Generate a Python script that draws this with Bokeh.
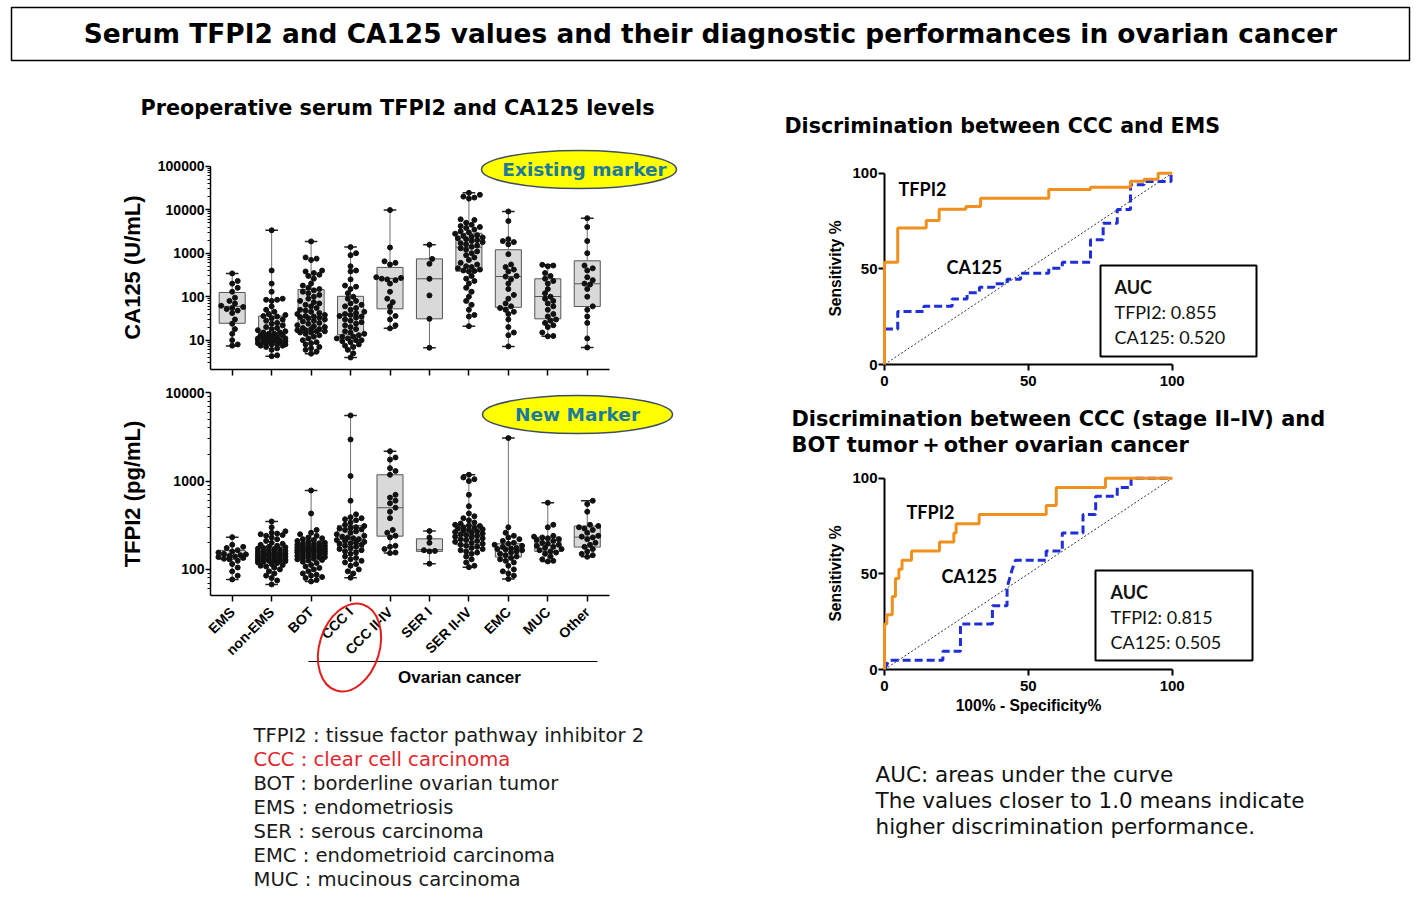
import math
from bokeh.plotting import figure
from bokeh.models import Range1d, FixedTicker, NumeralTickFormatter
from bokeh.layouts import column, row
from bokeh.core.properties import value
from bokeh.embed import file_html
from bokeh.resources import INLINE

# ------------------------------------------------------------------ data
CATEGORIES = ["EMS", "non-EMS", "BOT", "CCC I", "CCC II-IV", "SER I",
              "SER II-IV", "EMC", "MUC", "Other"]

# CA125 (U/mL) box statistics (min / q1 / median / q3 / max)
CA125_MIN = [7.4, 4.3, 4.9, 4.0, 18.7, 6.7, 21, 7.2, 12.3, 6.8]
CA125_Q1 = [24.5, 8.7, 16, 13.3, 52.6, 31, 385, 57, 31, 59.6]
CA125_MED = [60, 14.5, 34, 37, 263, 258, 1374, 291, 101, 198]
CA125_Q3 = [125, 36, 146, 102, 472, 740, 2880, 1200, 258, 668]
CA125_MAX = [343, 3365, 1866, 1380, 9800, 1560, 24400, 9100, 541, 6380]

CA125_EMS = [343, 230, 200, 160, 130, 95, 80, 70, 62, 58, 55, 52, 48, 42, 30, 24, 18, 14, 10, 8, 7.5]
CA125_NONEMS = [3365, 400, 200, 130, 90, 85, 85, 80, 60, 50, 45, 40, 38, 36, 35, 32, 30, 28, 25, 24, 22,
                20, 19, 18, 17, 16, 15, 15, 14, 14, 13, 13, 12, 12, 12, 11, 11, 11, 10, 10, 10, 10, 9.5,
                9, 9, 9, 8.5, 8.5, 8, 8, 8, 7.5, 7.5, 7, 6.5, 6, 4.5, 4.3]
CA125_BOT = [1866, 800, 750, 700, 400, 380, 350, 320, 300, 260, 200, 180, 160, 150, 140, 130, 120, 110,
             100, 90, 80, 75, 70, 65, 60, 55, 50, 48, 45, 42, 40, 38, 36, 35, 34, 33, 32, 30, 28, 27, 25,
             24, 22, 21, 20, 19, 18, 18, 17, 17, 16, 16, 15, 15, 14, 13, 12, 11, 10, 9, 8.5, 8, 7, 6.5,
             6, 5.5, 4.9]
CA125_CCC1 = [1380, 1000, 900, 500, 400, 380, 250, 180, 170, 150, 120, 100, 90, 80, 70, 65, 60, 55, 50,
              45, 42, 40, 38, 36, 35, 33, 30, 28, 26, 24, 22, 20, 18, 16, 15, 14, 13, 12, 12, 11, 11, 10,
              10, 9.5, 9, 8, 7.5, 7, 6, 5, 4.0]
CA125_CCC24 = [9800, 1350, 650, 600, 550, 280, 270, 260, 250, 240, 200, 130, 90, 75, 60, 45, 36, 30, 22, 18.7]
CA125_SER1 = [1560, 740, 570, 258, 107, 31, 6.7]
CA125_SER24 = [24400, 22000, 20000, 19000, 18000, 6000, 5800, 5000, 4500, 4200, 4000, 3800, 3500, 3200,
               3000, 2800, 2600, 2500, 2400, 2300, 2200, 2100, 2000, 1900, 1800, 1700, 1600, 1500, 1400,
               1300, 1200, 1100, 1000, 900, 800, 700, 600, 550, 500, 480, 450, 420, 400, 390, 380, 300,
               260, 230, 200, 160, 130, 100, 80, 65, 50, 38, 35, 21]
CA125_EMC = [9100, 5500, 2100, 1900, 1800, 1600, 950, 550, 480, 420, 380, 300, 290, 250, 200, 150, 110,
             90, 70, 60, 55, 50, 45, 40, 30, 20, 15, 13, 7.2]
CA125_MUC = [541, 520, 500, 350, 300, 260, 230, 200, 150, 120, 100, 90, 80, 70, 60, 50, 40, 35, 30, 28,
             25, 22, 20, 15, 12.5, 12.3]
CA125_OTHER = [6380, 4000, 1900, 1000, 520, 450, 400, 280, 240, 200, 190, 150, 100, 60, 50, 35, 25, 11, 6.8]

# TFPI2 (pg/mL) box statistics
TFPI2_MIN = [77, 67.6, 73, 80.5, 153, 116, 106, 78, 123, 139]
TFPI2_Q1 = [130, 126, 138, 164, 238, 160, 190, 138, 160, 179]
TFPI2_MED = [144, 150, 171, 219, 499, 167, 243, 171, 187, 232]
TFPI2_Q3 = [164, 179, 204, 315, 1180, 222, 315, 195, 232, 310]
TFPI2_MAX = [232, 349, 784, 5540, 2180, 272, 1180, 3070, 569, 599]

TFPI2_EMS = [232, 190, 180, 175, 165, 160, 155, 150, 148, 145, 142, 140, 138, 135, 132, 130, 125, 115,
             105, 95, 85, 77]
TFPI2_NONEMS = [349, 300, 270, 260, 255, 250, 245, 240, 230, 220, 210, 200, 195, 190, 185, 180, 178, 175,
                172, 170, 168, 165, 162, 160, 158, 156, 154, 152, 150, 148, 146, 145, 144, 142, 140, 138,
                136, 135, 134, 132, 130, 129, 128, 127, 126, 125, 124, 122, 120, 118, 115, 112, 110, 108,
                105, 100, 95, 90, 85, 80, 75, 67.6]
TFPI2_BOT = [784, 430, 280, 260, 250, 240, 230, 225, 220, 215, 210, 205, 200, 198, 195, 192, 190, 188,
             185, 182, 180, 178, 176, 174, 172, 170, 168, 166, 165, 163, 161, 160, 158, 156, 155, 153,
             150, 148, 146, 144, 142, 140, 138, 136, 134, 132, 130, 128, 126, 122, 118, 112, 108, 104,
             100, 95, 90, 87, 85, 82, 80, 76, 73]
TFPI2_CCC1 = [5540, 2960, 1140, 600, 420, 390, 380, 370, 360, 340, 320, 310, 300, 295, 290, 285, 280,
              270, 260, 250, 240, 235, 230, 225, 220, 215, 210, 205, 200, 198, 195, 190, 185, 180, 175,
              170, 165, 160, 155, 150, 140, 135, 130, 125, 120, 115, 110, 100, 95, 90, 80.5]
TFPI2_CCC24 = [2180, 1850, 1750, 1400, 1300, 1180, 700, 650, 600, 560, 500, 450, 380, 280, 260, 240,
               230, 185, 180, 170, 155, 153]
TFPI2_SER1 = [272, 230, 200, 165, 162, 160, 116]
TFPI2_SER24 = [1180, 1100, 1050, 1000, 700, 520, 430, 400, 380, 360, 340, 330, 320, 315, 310, 300, 295,
               290, 285, 280, 275, 270, 265, 260, 255, 250, 245, 240, 235, 230, 225, 220, 215, 210, 205,
               200, 195, 190, 185, 180, 175, 170, 165, 160, 155, 150, 140, 130, 120, 110, 106]
TFPI2_EMC = [3070, 300, 260, 240, 230, 220, 210, 200, 195, 190, 185, 180, 175, 172, 170, 168, 165, 160,
             155, 150, 145, 140, 135, 130, 125, 120, 110, 100, 95, 90, 85, 78]
TFPI2_MUC = [569, 320, 300, 240, 235, 230, 225, 220, 215, 210, 200, 195, 190, 185, 180, 175, 170, 165,
             160, 155, 150, 140, 130, 125, 123]
TFPI2_OTHER = [599, 550, 450, 320, 310, 300, 290, 280, 260, 240, 235, 230, 220, 200, 190, 180, 170, 160,
               150, 145, 139]

CA125_TICKS = [10, 100, 1000, 10000, 100000]
TFPI2_TICKS = [100, 1000, 10000]

# ROC curves (100% - specificity %, sensitivity %)
ROC1_TFPI2_X = [0, 0, 4.6, 4.6, 14.5, 14.5, 19.0, 19.0, 28.3, 28.3, 33.4, 33.4, 57.1, 57.1, 71.6, 71.6,
                85.5, 85.5, 90.2, 90.2, 95.1, 95.1, 100]
ROC1_TFPI2_Y = [0, 53.5, 53.5, 71.3, 71.3, 75.3, 75.3, 81.2, 81.2, 82.6, 82.6, 86.9, 86.9, 91.5, 91.5,
                92.7, 92.7, 95.8, 95.8, 96.9, 96.9, 100, 100]
ROC1_CA125_X = [0, 0, 4.6, 4.6, 13.7, 13.7, 23.5, 23.5, 28.7, 28.7, 33.0, 33.0, 38.0, 38.0, 42.6, 42.6,
                47.3, 47.3, 57.1, 57.1, 61.8, 61.8, 71.6, 71.6, 76.0, 76.0, 80.9, 80.9, 85.5, 85.5, 90.2,
                90.2, 99.6, 99.6, 100]
ROC1_CA125_Y = [0, 18.6, 18.6, 27.7, 27.7, 30.5, 30.5, 34.3, 34.3, 37.5, 37.5, 40.4, 40.4, 42.2, 42.2,
                44.6, 44.6, 47.7, 47.7, 50.3, 50.3, 53.5, 53.5, 65.2, 65.2, 73.9, 73.9, 81.0, 81.0, 93.9,
                93.9, 95.6, 95.6, 100, 100]
ROC2_TFPI2_X = [0, 0, 0.8, 0.8, 2.7, 2.7, 3.8, 3.8, 5.0, 5.0, 6.1, 6.1, 9.4, 9.4, 19.1, 19.1, 24.1, 24.1,
                24.9, 24.9, 32.9, 32.9, 56.2, 56.2, 59.7, 59.7, 76.8, 76.8, 100]
ROC2_TFPI2_Y = [0, 23.8, 23.8, 28.6, 28.6, 38.1, 38.1, 47.6, 47.6, 52.4, 52.4, 57.1, 57.1, 61.9, 61.9,
                66.7, 66.7, 71.4, 71.4, 76.2, 76.2, 81.0, 81.0, 85.7, 85.7, 95.2, 95.2, 100, 100]
ROC2_CA125_X = [0, 1.5, 20.3, 20.3, 26.4, 26.4, 37.5, 37.5, 42.6, 42.6, 44.4, 45.5, 56.2, 56.2, 61.8,
                61.8, 69.0, 69.0, 73.4, 73.4, 80.9, 80.9, 85.7, 85.7, 100]
ROC2_CA125_Y = [0, 4.8, 4.8, 9.5, 9.5, 23.8, 23.8, 33.3, 33.3, 42.9, 52.4, 57.1, 57.1, 61.9, 61.9, 71.4,
                71.4, 81.0, 81.0, 90.5, 90.5, 95.2, 95.2, 100, 100]
ROC_DIAG = [0, 100]
ROC_TICKS = [0, 50, 100]
AUC1 = ["AUC", "TFPI2: 0.855", "CA125: 0.520"]
AUC2 = ["AUC", "TFPI2: 0.815", "CA125: 0.505"]

TITLE = "Serum TFPI2 and CA125 values and their diagnostic performances in ovarian cancer"
SUBTITLE = "Preoperative serum TFPI2 and CA125 levels"
ROC1_TITLE = "Discrimination between CCC and EMS"
ROC2_TITLE = ["Discrimination between CCC (stage II\u2013IV) and", "BOT tumor\u2009+\u2009other ovarian cancer"]
LEGEND_LINES = ["TFPI2 : tissue factor pathway inhibitor 2", "CCC : clear cell carcinoma",
                "BOT : borderline ovarian tumor", "EMS : endometriosis", "SER : serous carcinoma",
                "EMC : endometrioid carcinoma", "MUC : mucinous carcinoma"]
LEGEND_COLORS = ["#1a1a1a", "#e3262b", "#1a1a1a", "#1a1a1a", "#1a1a1a", "#1a1a1a", "#1a1a1a"]
NOTE_LINES = ["AUC: areas under the curve", "The values closer to 1.0 means indicate",
              "higher discrimination performance."]

# ------------------------------------------------------------------ geometry (page pixels)
CAT0_X, CAT_DX = 231.7, 39.45
CA_TOP_Y, CA_DEC = 165.7, 43.5     # 100000 position, px per decade
TF_TOP_Y, TF_DEC = 392.3, 88.3     # 10000 position, px per decade
ROC_X0, ROC_PX = 884.0, 2.877
ROC1_Y0, ROC2_Y0, ROC_PY = 364.0, 669.0, 1.913
LEFT_W, RIGHT_W = 708, 712
BOX_L, BOX_R = 210, 609            # frame edges of the box plots
ROC_L, ROC_R = 884, 1172           # frame edges of the ROC plots
BOX_LB, BOX_RB = BOX_L, LEFT_W - BOX_R
ROC_LB, ROC_RB = ROC_L - LEFT_W, LEFT_W + RIGHT_W - ROC_R

ARIAL = "Liberation Sans"
HEAD = "DejaVu Sans"
BODY = "DejaVu Sans"
CAL = "Lato"


def ca_x(rx):
    return (rx - CAT0_X) / CAT_DX


def ca_y(ry):
    return 10 ** (5 - (ry - CA_TOP_Y) / CA_DEC)


def tf_y(ry):
    return 10 ** (4 - (ry - TF_TOP_Y) / TF_DEC)


def roc_x(rx):
    return (rx - ROC_X0) / ROC_PX


def roc_y(ry, y0):
    return (y0 - ry) / ROC_PY


def canvas(x0, w, top, h, lb, rb):
    # data coordinates equal page pixels; frame borders match the column's plots
    p = figure(width=w, height=h, x_range=Range1d(x0 + lb, x0 + w - rb), y_range=Range1d(top + h, top),
               x_axis_location=None, y_axis_location=None, toolbar_location=None,
               output_backend="svg", min_border_left=lb, min_border_right=rb,
               min_border_top=0, min_border_bottom=0)
    p.outline_line_color = None
    p.grid.visible = False
    p.title.visible = False
    return p


def swarm(vals, ppd, d=5.0, maxoff=16.0):
    ys = [math.log10(v) * ppd for v in vals]
    order = sorted(range(len(vals)), key=lambda i: ys[i])
    step = d * 0.55
    cands = [0.0]
    k = 1
    while k * step <= maxoff:
        cands += [k * step, -k * step]
        k += 1
    placed = []
    offs = [0.0] * len(vals)
    for i in order:
        y = ys[i]
        best, bestov = 0.0, 1e9
        for c in cands:
            ov = 0.0
            for (px, py) in placed:
                if abs(py - y) < d:
                    dist = math.hypot(px - c, py - y)
                    if dist < d:
                        ov += d - dist
            if ov == 0:
                best = c
                break
            if ov < bestov:
                bestov, best = ov, c
        offs[i] = best
        placed.append((best, y))
    return [o / CAT_DX for o in offs]


def style_axis(ax, size="14px"):
    ax.axis_line_color = "black"
    ax.axis_line_width = 1.5
    ax.major_tick_line_color = "black"
    ax.major_tick_line_width = 1.5
    ax.minor_tick_line_color = "black"
    ax.major_tick_in = 0
    ax.minor_tick_in = 0
    ax.major_label_text_font = ARIAL
    ax.major_label_text_font_style = "bold"
    ax.major_label_text_font_size = size
    ax.major_label_text_color = "black"
    ax.axis_label_text_font = ARIAL
    ax.axis_label_text_font_style = "bold"
    ax.axis_label_text_color = "black"


def draw_boxes(p, mins, q1, med, q3, mx, groups, ppd):
    xs = list(range(len(CATEGORIES)))
    hw, cw = 0.33, 0.16
    p.segment(x0=xs, y0=mins, x1=xs, y1=mx, line_color="#707070", line_width=1)
    p.quad(left=[x - hw for x in xs], right=[x + hw for x in xs], bottom=q1, top=q3,
           fill_color="#d9d9d9", line_color="#555555", line_width=1)
    p.segment(x0=[x - hw for x in xs], y0=med, x1=[x + hw for x in xs], y1=med,
              line_color="#555555", line_width=1)
    p.segment(x0=[x - cw for x in xs], y0=mins, x1=[x + cw for x in xs], y1=mins,
              line_color="#222222", line_width=1.5)
    p.segment(x0=[x - cw for x in xs], y0=mx, x1=[x + cw for x in xs], y1=mx,
              line_color="#222222", line_width=1.5)
    dx, dy = [], []
    for i, g in enumerate(groups):
        offs = swarm(g, ppd)
        dx += [i + o for o in offs]
        dy += list(g)
    p.scatter(dx, dy, size=5, color="#111111", level="overlay")


def log_minor(lo, hi):
    out = []
    for e in range(-1, 7):
        for m in range(2, 10):
            v = m * 10 ** e
            if lo <= v <= hi:
                out.append(v)
    return out


def ctext(p, x, y, t, font, size, style="normal", color="black", align="left"):
    p.text(x=x, y=y, text=t, text_font=value(font), text_font_style=style, text_font_size=size,
           text_color=color, text_align=align, text_baseline="middle", level="overlay")


# ------------------------------------------------------------------ title
F0 = canvas(0, LEFT_W + RIGHT_W, 0, 70, 0, 0)
F0.quad(left=[11], right=[1409], top=[7], bottom=[60], fill_color=None, line_color="black",
        line_width=1.5)
ctext(F0, [710], [33], [TITLE], HEAD, "26.4px", "bold", align="center")

# ------------------------------------------------------------------ left column
L0 = canvas(0, LEFT_W, 70, 75, BOX_LB, BOX_RB)
ctext(L0, [397], [107], [SUBTITLE], HEAD, "20.8px", "bold", align="center")


def box_figure(height, top, frame_top, frame_bottom, ymap):
    p = figure(width=LEFT_W, height=height, y_axis_type="log",
               x_range=Range1d(ca_x(BOX_L), ca_x(BOX_R)),
               y_range=Range1d(ymap(frame_bottom), ymap(frame_top)),
               min_border_left=BOX_LB, min_border_right=BOX_RB,
               min_border_top=frame_top - top, min_border_bottom=top + height - frame_bottom,
               toolbar_location=None, output_backend="svg")
    p.outline_line_color = None
    p.grid.visible = False
    p.title.visible = False
    style_axis(p.xaxis[0])
    style_axis(p.yaxis[0])
    p.xaxis.ticker = FixedTicker(ticks=list(range(len(CATEGORIES))))
    p.xaxis.major_tick_out = 6
    p.yaxis.formatter = NumeralTickFormatter(format="0")
    p.yaxis.major_tick_out = 5
    p.yaxis.minor_tick_out = 3
    p.yaxis.major_label_standoff = 1
    p.yaxis.axis_label_text_font_size = "22px"
    return p


# CA125 panel: figure y 145..385, frame x 210..609, y 165..369
L1 = box_figure(240, 145, 165, 369, ca_y)
L1.xaxis.major_label_overrides = {i: "" for i in range(len(CATEGORIES))}
L1.xaxis.major_label_text_font_size = "0px"
L1.yaxis.ticker = FixedTicker(ticks=CA125_TICKS, minor_ticks=log_minor(ca_y(369), 100000))
L1.yaxis.bounds = (ca_y(369), 100000)
L1.yaxis.axis_label = "CA125 (U/mL)"
L1.yaxis.axis_label_standoff = 10
draw_boxes(L1, CA125_MIN, CA125_Q1, CA125_MED, CA125_Q3, CA125_MAX,
           [CA125_EMS, CA125_NONEMS, CA125_BOT, CA125_CCC1, CA125_CCC24, CA125_SER1, CA125_SER24,
            CA125_EMC, CA125_MUC, CA125_OTHER], CA_DEC)
L1.ellipse(x=[ca_x(578.5)], y=[ca_y(169)], width=195, height=38, width_units="screen",
           height_units="screen", fill_color="#ffff00", line_color="#3f4f5f", line_width=1.5,
           level="overlay")
ctext(L1, [ca_x(584)], [ca_y(169)], ["Existing marker"], HEAD, "18.5px", "bold", "#1c7a9c", "center")

# TFPI2 panel: figure y 385..700, frame y 392..595
L2 = box_figure(315, 385, 392, 595, tf_y)
L2.xaxis.major_label_overrides = {i: c for i, c in enumerate(CATEGORIES)}
L2.xaxis.major_label_orientation = math.pi / 4
L2.xaxis.major_label_standoff = 8
L2.yaxis.ticker = FixedTicker(ticks=TFPI2_TICKS, minor_ticks=log_minor(tf_y(595), 10000))
L2.yaxis.bounds = (tf_y(595), 10000)
L2.yaxis.axis_label = "TFPI2 (pg/mL)"
L2.yaxis.axis_label_standoff = 18
draw_boxes(L2, TFPI2_MIN, TFPI2_Q1, TFPI2_MED, TFPI2_Q3, TFPI2_MAX,
           [TFPI2_EMS, TFPI2_NONEMS, TFPI2_BOT, TFPI2_CCC1, TFPI2_CCC24, TFPI2_SER1, TFPI2_SER24,
            TFPI2_EMC, TFPI2_MUC, TFPI2_OTHER], TF_DEC)
L2.ellipse(x=[ca_x(577)], y=[tf_y(414)], width=190, height=38, width_units="screen",
           height_units="screen", fill_color="#ffff00", line_color="#3f4f5f", line_width=1.5,
           level="overlay")
ctext(L2, [ca_x(577)], [tf_y(414)], ["New Marker"], HEAD, "18.5px", "bold", "#1c7a9c", "center")
L2.segment(x0=[ca_x(308)], y0=[tf_y(661)], x1=[ca_x(597)], y1=[tf_y(661)], line_color="black",
           line_width=1, level="overlay")
L2.ellipse(x=[ca_x(349)], y=[tf_y(647)], width=60, height=90, angle=-0.3, width_units="screen",
           height_units="screen", fill_color=None, line_color="#e02020", line_width=2, level="overlay")
ctext(L2, [ca_x(459)], [tf_y(677)], ["Ovarian cancer"], ARIAL, "17px", "bold", align="center")

L3 = canvas(0, LEFT_W, 700, 200, BOX_LB, BOX_RB)
ctext(L3, [253] * len(LEGEND_LINES), [735 + 24 * i for i in range(len(LEGEND_LINES))],
      LEGEND_LINES, BODY, "19.6px", color=LEGEND_COLORS)

# ------------------------------------------------------------------ right column
R0 = canvas(LEFT_W, RIGHT_W, 70, 75, ROC_LB, ROC_RB)
ctext(R0, [784], [125], [ROC1_TITLE], HEAD, "20.6px", "bold")


def roc_panel(height, top, frame_top, frame_bottom, y0, xlabel):
    p = figure(width=RIGHT_W, height=height,
               x_range=Range1d(roc_x(ROC_L), roc_x(ROC_R)),
               y_range=Range1d(roc_y(frame_bottom, y0), roc_y(frame_top, y0)),
               min_border_left=ROC_LB, min_border_right=ROC_RB,
               min_border_top=frame_top - top, min_border_bottom=top + height - frame_bottom,
               toolbar_location=None, output_backend="svg")
    p.outline_line_color = None
    p.grid.visible = False
    p.title.visible = False
    for ax in (p.xaxis[0], p.yaxis[0]):
        style_axis(ax, "15px")
        ax.axis_line_width = 2
        ax.major_tick_line_width = 2
        ax.ticker = FixedTicker(ticks=ROC_TICKS)
        ax.bounds = (0, 100)
        ax.major_tick_out = 6
        ax.axis_label_text_font_size = "15.6px"
    p.yaxis.major_label_standoff = 1
    p.yaxis.axis_label = "Sensitivity %"
    p.yaxis.axis_label_standoff = 5
    p.xaxis.major_label_standoff = 5
    if xlabel:
        p.xaxis.axis_label = xlabel
        p.xaxis.axis_label_standoff = 3
    p.line(ROC_DIAG, ROC_DIAG, line_color="#333333", line_width=1, line_dash="2 2")
    return p


def roc_content(p, tx, ty, cx, cy, y0, fpr_t, tpr_t, fpr_c, tpr_c, box, lines, lx, ly):
    p.line(fpr_c, tpr_c, line_color="#1f2fd8", line_width=3, line_dash="8 4", level="overlay")
    p.line(fpr_t, tpr_t, line_color="#f0901e", line_width=3, level="overlay")
    ctext(p, [roc_x(tx)], [roc_y(ty, y0)], ["TFPI2"], CAL, "18px", "bold")
    ctext(p, [roc_x(cx)], [roc_y(cy, y0)], ["CA125"], CAL, "18px", "bold")
    p.quad(left=[roc_x(box[0])], right=[roc_x(box[1])], top=[roc_y(box[2], y0)],
           bottom=[roc_y(box[3], y0)], fill_color="white", line_color="black", line_width=2,
           level="overlay")
    p.text(x=[roc_x(lx)] * 3, y=[roc_y(v, y0) for v in ly], text=lines, text_font=value(CAL),
           text_font_style=["bold", "normal", "normal"], text_font_size="18px", text_align="left",
           text_baseline="middle", text_color="#111111", level="overlay")


# ROC 1: figure y 145..395, frame y 172..364
R1 = roc_panel(250, 145, 172, 364, ROC1_Y0, None)
roc_content(R1, 898, 188, 946, 266, ROC1_Y0, ROC1_TFPI2_X, ROC1_TFPI2_Y, ROC1_CA125_X, ROC1_CA125_Y,
            (1100, 1256, 265, 356), AUC1, 1114, [286, 311, 336])

R2 = canvas(LEFT_W, RIGHT_W, 395, 70, ROC_LB, ROC_RB)
ctext(R2, [791, 791], [418, 444], ROC2_TITLE, HEAD, "20.9px", "bold")

# ROC 2: figure y 465..727, frame y 477..669
R3 = roc_panel(262, 465, 477, 669, ROC2_Y0, "100% - Specificity%")
roc_content(R3, 906, 511, 941, 575, ROC2_Y0, ROC2_TFPI2_X, ROC2_TFPI2_Y, ROC2_CA125_X, ROC2_CA125_Y,
            (1095, 1252, 570, 660), AUC2, 1110, [591, 616, 641])

R4 = canvas(LEFT_W, RIGHT_W, 727, 173, ROC_LB, ROC_RB)
ctext(R4, [875] * 3, [774, 800, 826], NOTE_LINES, BODY, "21.5px", color="#111111")

page = column(F0, row(column(L0, L1, L2, L3), column(R0, R1, R2, R3, R4)))
open("out.html", "w").write(file_html(page, INLINE))
